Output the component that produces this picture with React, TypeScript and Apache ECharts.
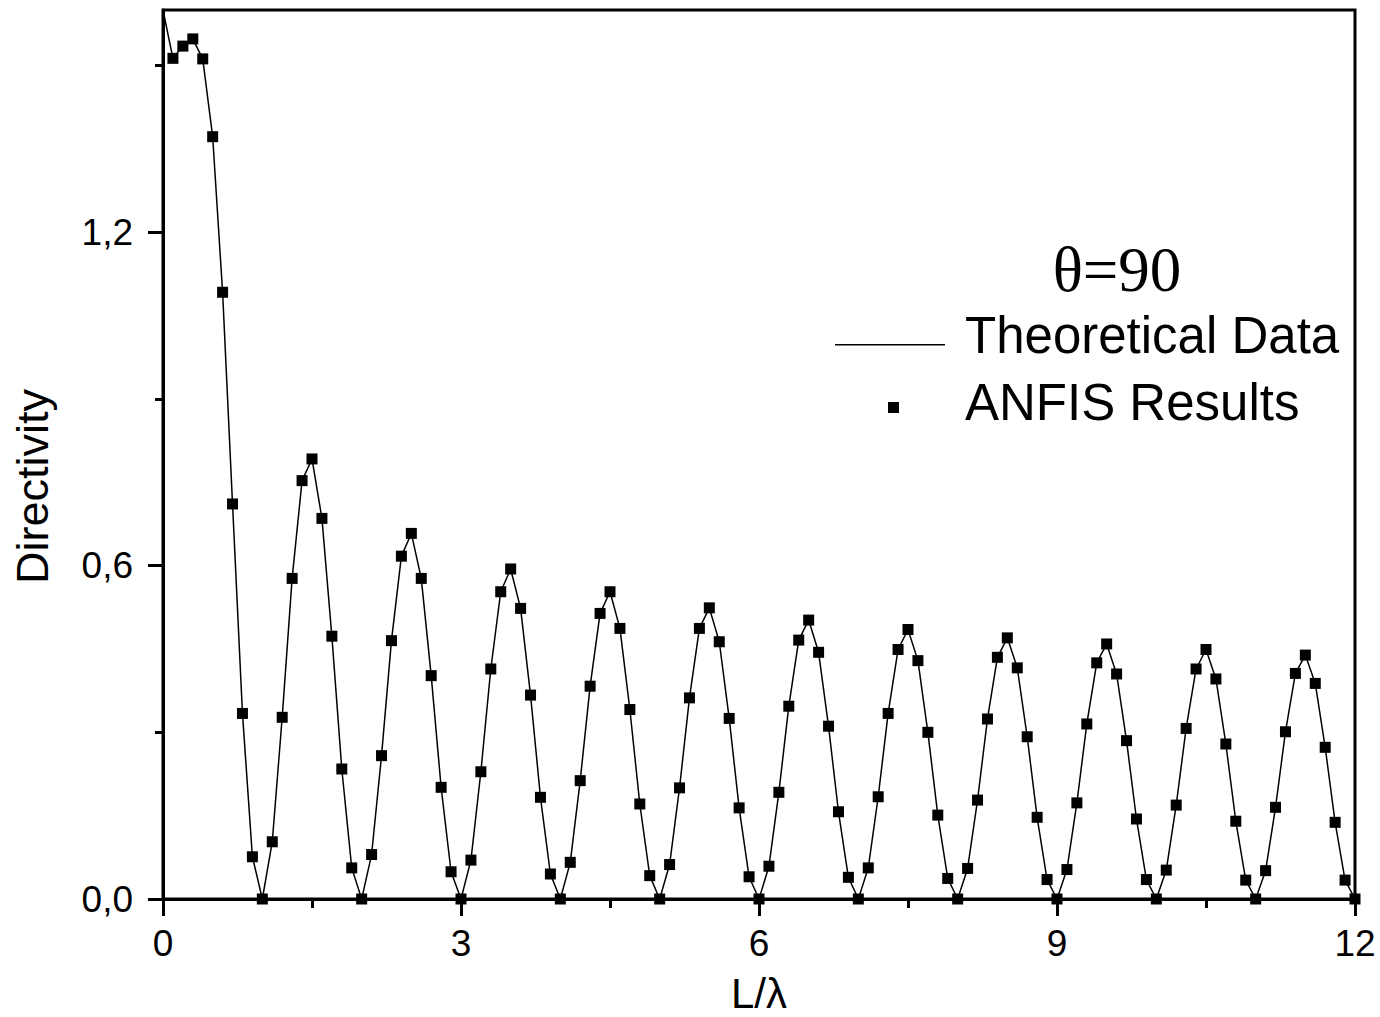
import React, { useEffect, useRef } from "react";
import * as echarts from "echarts";

const lValues = [
  0.0, 0.1, 0.2, 0.3, 0.4, 0.5, 0.6, 0.7, 0.8, 0.9,
  1.0, 1.1, 1.2, 1.3, 1.4, 1.5, 1.6, 1.7, 1.8, 1.9,
  2.0, 2.1, 2.2, 2.3, 2.4, 2.5, 2.6, 2.7, 2.8, 2.9,
  3.0, 3.1, 3.2, 3.3, 3.4, 3.5, 3.6, 3.7, 3.8, 3.9,
  4.0, 4.1, 4.2, 4.3, 4.4, 4.5, 4.6, 4.7, 4.8, 4.9,
  5.0, 5.1, 5.2, 5.3, 5.4, 5.5, 5.6, 5.7, 5.8, 5.9,
  6.0, 6.1, 6.2, 6.3, 6.4, 6.5, 6.6, 6.7, 6.8, 6.9,
  7.0, 7.1, 7.2, 7.3, 7.4, 7.5, 7.6, 7.7, 7.8, 7.9,
  8.0, 8.1, 8.2, 8.3, 8.4, 8.5, 8.6, 8.7, 8.8, 8.9,
  9.0, 9.1, 9.2, 9.3, 9.4, 9.5, 9.6, 9.7, 9.8, 9.9,
  10.0, 10.1, 10.2, 10.3, 10.4, 10.5, 10.6, 10.7, 10.8, 10.9,
  11.0, 11.1, 11.2, 11.3, 11.4, 11.5, 11.6, 11.7, 11.8, 11.9,
  12.0,
];

// Theoretical directivity at every L/λ above (first value is at L/λ = 0)
const theoreticalValues = [
  1.600, 1.513, 1.535, 1.548, 1.512, 1.372, 1.092, 0.711, 0.334, 0.076,
  0.000, 0.103, 0.327, 0.577, 0.753, 0.792, 0.685, 0.473, 0.234, 0.056,
  0.000, 0.080, 0.258, 0.465, 0.617, 0.658, 0.577, 0.402, 0.201, 0.049,
  0.000, 0.070, 0.229, 0.414, 0.553, 0.594, 0.523, 0.367, 0.183, 0.045,
  0.000, 0.066, 0.213, 0.383, 0.514, 0.553, 0.487, 0.341, 0.171, 0.042,
  0.000, 0.062, 0.200, 0.362, 0.487, 0.524, 0.463, 0.325, 0.164, 0.040,
  0.000, 0.059, 0.192, 0.347, 0.466, 0.502, 0.444, 0.311, 0.157, 0.039,
  0.000, 0.056, 0.184, 0.334, 0.449, 0.485, 0.429, 0.300, 0.151, 0.037,
  0.000, 0.055, 0.178, 0.324, 0.435, 0.470, 0.416, 0.292, 0.147, 0.035,
  0.000, 0.053, 0.173, 0.315, 0.425, 0.459, 0.405, 0.285, 0.144, 0.035,
  0.000, 0.052, 0.169, 0.307, 0.414, 0.449, 0.396, 0.279, 0.140, 0.034,
  0.000, 0.051, 0.165, 0.301, 0.406, 0.439, 0.388, 0.273, 0.138, 0.034,
  0.000,
];

// ANFIS results from L/λ = 0.1 to 12.0
const anfisValues = [
  1.513, 1.535, 1.548, 1.512, 1.372, 1.092, 0.711, 0.334, 0.076,
  0.000, 0.103, 0.327, 0.577, 0.753, 0.792, 0.685, 0.473, 0.234, 0.056,
  0.000, 0.080, 0.258, 0.465, 0.617, 0.658, 0.577, 0.402, 0.201, 0.049,
  0.000, 0.070, 0.229, 0.414, 0.553, 0.594, 0.523, 0.367, 0.183, 0.045,
  0.000, 0.066, 0.213, 0.383, 0.514, 0.553, 0.487, 0.341, 0.171, 0.042,
  0.000, 0.062, 0.200, 0.362, 0.487, 0.524, 0.463, 0.325, 0.164, 0.040,
  0.000, 0.059, 0.192, 0.347, 0.466, 0.502, 0.444, 0.311, 0.157, 0.039,
  0.000, 0.056, 0.184, 0.334, 0.449, 0.485, 0.429, 0.300, 0.151, 0.037,
  0.000, 0.055, 0.178, 0.324, 0.435, 0.470, 0.416, 0.292, 0.147, 0.035,
  0.000, 0.053, 0.173, 0.315, 0.425, 0.459, 0.405, 0.285, 0.144, 0.035,
  0.000, 0.052, 0.169, 0.307, 0.414, 0.449, 0.396, 0.279, 0.140, 0.034,
  0.000, 0.051, 0.165, 0.301, 0.406, 0.439, 0.388, 0.273, 0.138, 0.034,
  0.000,
];

const yMajorTicks = [0, 0.6, 1.2];
const yMinorTicks = [0.3, 0.9, 1.5];
const xTickInterval = 3;

const SANS = '"Liberation Sans", Arial, sans-serif';
const SERIF = '"Liberation Serif", "Times New Roman", serif';

// legend icons: a tiny anchor at the top keeps the mark low in the icon box
const LINE_ICON = "path://M0,0L0.01,0L0.01,0.01Z M0,18.5H110V20H0Z";
const SQUARE_ICON = "path://M0,0L0.01,0L0.01,0.01Z M0,10H11V21H0Z";

export default function App() {
  const ref = useRef<HTMLDivElement>(null);

  useEffect(() => {
    document.body.style.margin = "0";
    if (!ref.current) return;
    const chart = echarts.init(ref.current, null, { renderer: "svg" });

    const theoryData = lValues.map((x, i) => [x, theoreticalValues[i]]);
    const anfisData = lValues.slice(1).map((x, i) => [x, anfisValues[i]]);

    const fmt = (v: number) => v.toFixed(1).replace(".", ",");

    chart.setOption({
      animation: false,
      backgroundColor: "#ffffff",
      grid: {
        left: 163,
        right: 25,
        top: 10,
        bottom: 118,
        show: true,
        borderColor: "#000",
        borderWidth: 3,
        backgroundColor: "transparent",
        containLabel: false,
        outerBoundsMode: "none",
      },
      xAxis: {
        type: "value",
        min: 0,
        max: 12,
        interval: xTickInterval,
        name: "L/λ",
        nameLocation: "middle",
        nameGap: 74,
        nameTextStyle: { fontFamily: SANS, fontSize: 42, lineHeight: 40, color: "#000" },
        axisLine: { show: true, lineStyle: { color: "#000", width: 3 } },
        axisTick: { show: true, inside: false, length: 17, lineStyle: { color: "#000", width: 3 } },
        minorTick: { show: true, splitNumber: 2, length: 9, lineStyle: { color: "#000", width: 3 } },
        axisLabel: { fontFamily: SANS, fontSize: 37, color: "#000", margin: 26 },
        splitLine: { show: false },
        minorSplitLine: { show: false },
      },
      yAxis: [
        {
          type: "value",
          position: "left",
          min: 0,
          max: 1.6,
          name: "Directivity",
          nameLocation: "middle",
          nameGap: 108,
          nameTextStyle: {
            fontFamily: SANS,
            fontSize: 45,
            color: "#000",
            padding: [0, 64, 0, 0],
          },
          axisLine: { show: true, lineStyle: { color: "#000", width: 3 } },
          axisTick: {
            show: true,
            inside: false,
            length: 15,
            customValues: yMajorTicks,
            lineStyle: { color: "#000", width: 3 },
          },
          axisLabel: {
            fontFamily: SANS,
            fontSize: 37,
            color: "#000",
            margin: 30,
            customValues: yMajorTicks,
            formatter: fmt,
          },
          splitLine: { show: false },
        },
        {
          type: "value",
          position: "left",
          offset: 0,
          min: 0,
          max: 1.6,
          axisLine: { show: false },
          axisTick: {
            show: true,
            inside: false,
            length: 8,
            customValues: yMinorTicks,
            lineStyle: { color: "#000", width: 3 },
          },
          axisLabel: { show: false },
          splitLine: { show: false },
        },
      ],
      legend: [
        {
          data: [{ name: "Theoretical Data", icon: LINE_ICON }],
          left: 835,
          top: 310,
          itemWidth: 110,
          itemHeight: 20,
          padding: 0,
          itemStyle: { color: "#000", borderWidth: 0, opacity: 1 },
          lineStyle: { width: 0 },
          textStyle: {
            fontFamily: SANS,
            fontSize: 51,
            color: "#000",
            padding: [0, 0, 0, 15],
          },
        },
        {
          data: [{ name: "ANFIS Results", icon: SQUARE_ICON }],
          left: 888,
          top: 377,
          itemWidth: 11,
          itemHeight: 21,
          padding: 0,
          itemStyle: { color: "#000", borderWidth: 0, opacity: 1 },
          textStyle: {
            fontFamily: SANS,
            fontSize: 51,
            color: "#000",
            padding: [0, 0, 0, 61],
          },
        },
      ],
      graphic: [
        {
          type: "text",
          x: 1117,
          y: 270,
          style: {
            text: "θ=90",
            font: `63px ${SERIF}`,
            fill: "#000",
            textAlign: "center",
            textVerticalAlign: "middle",
          },
        },
      ],
      series: [
        {
          name: "Theoretical Data",
          type: "line",
          data: theoryData,
          showSymbol: false,
          symbol: "none",
          clip: true,
          lineStyle: { color: "#000", width: 1.5 },
          itemStyle: { color: "#000" },
          z: 2,
        },
        {
          name: "ANFIS Results",
          type: "scatter",
          data: anfisData,
          symbol: "rect",
          symbolSize: 11,
          clip: true,
          itemStyle: { color: "#000", opacity: 1 },
          z: 3,
        },
      ],
    });

    return () => chart.dispose();
  }, []);

  return <div ref={ref} style={{ width: 1380, height: 1017 }} />;
}
